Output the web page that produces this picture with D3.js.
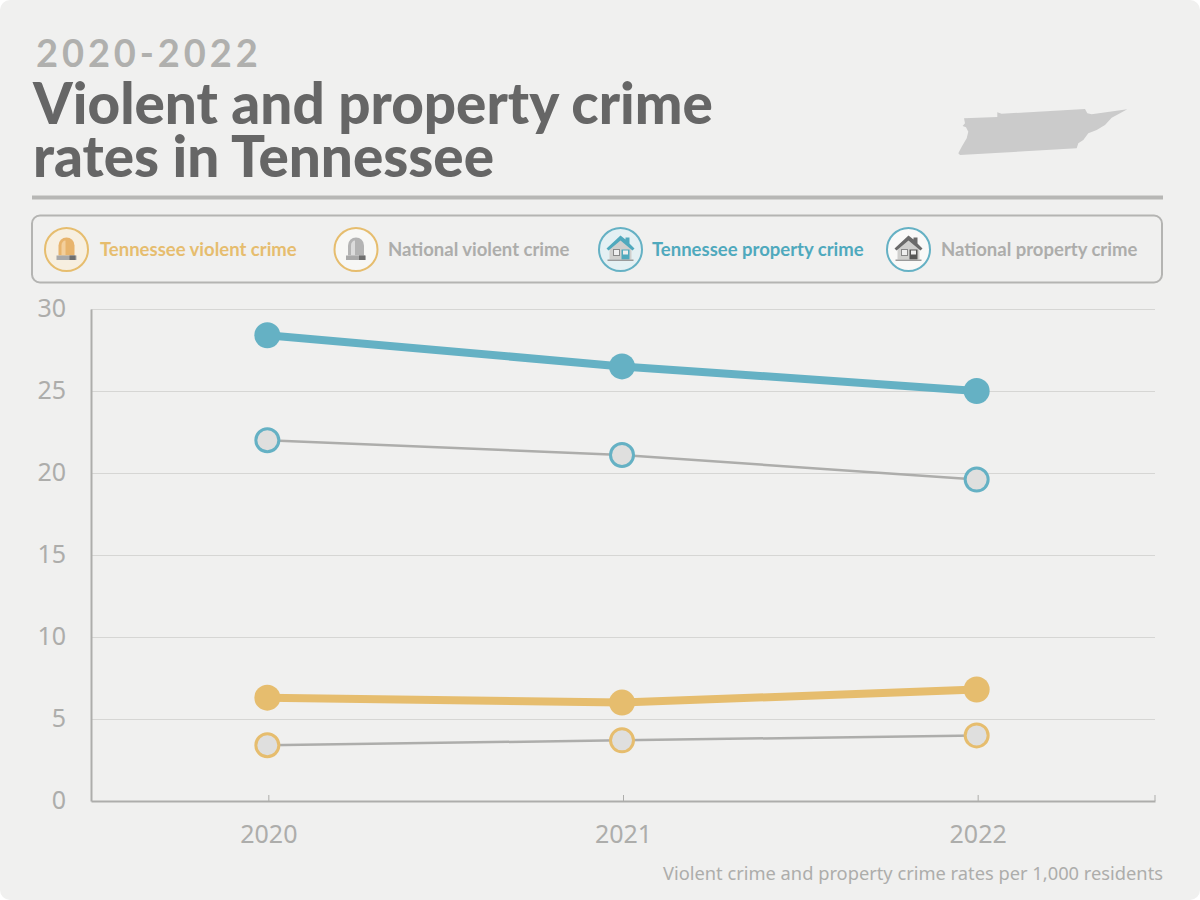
<!DOCTYPE html>
<html>
<head>
<meta charset="utf-8">
<script src="https://cdn.jsdelivr.net/npm/d3@7"></script>
<style>
  html, body { margin: 0; padding: 0; background: #fff; }
  text { font-family: "Noto Sans", sans-serif; }
  .head { font-family: Lato, sans-serif; }
</style>
</head>
<body>
<svg id="chart" width="1200" height="900"></svg>
<script>
const years = [2020, 2021, 2022]
const yTicks = [0, 5, 10, 15, 20, 25, 30]
const tnProperty = [28.4, 26.5, 25.0]
const usProperty = [22.0, 21.1, 19.6]
const tnViolent = [6.3, 6.0, 6.8]
const usViolent = [3.4, 3.7, 4.0]
const titleLines = ['Violent and property crime', 'rates in Tennessee']
const legendLabels = ['Tennessee violent crime', 'National violent crime', 'Tennessee property crime', 'National property crime']

const gold = '#e6bd6e'
const teal = '#65b1c4'
const grey = '#adadab'

const svg = d3.select('#chart')
svg.append('rect').attr('width', 1200).attr('height', 900).attr('rx', 10).attr('fill', '#f0f0ef')

// header
svg.append('text').attr('class', 'head').attr('x', 36).attr('y', 67).text('2020-2022')
  .attr('font-size', 38).attr('font-weight', 700).attr('letter-spacing', 3.9).attr('fill', '#b0b0ae')
titleLines.forEach((t, i) => {
  svg.append('text').attr('class', 'head').attr('x', 33).attr('y', 124 + i * 53).text(t)
    .attr('font-size', 56.6).attr('font-weight', 900).attr('fill', '#666')
})
svg.append('line').attr('x1', 32).attr('x2', 1163).attr('y1', 197.5).attr('y2', 197.5)
  .attr('stroke', '#b7b7b5').attr('stroke-width', 4)

// state outline
const tnOutline = [[958.3, 153.3], [961.7, 146.7], [966.7, 138.3], [968.3, 131.7], [966, 127.3], [962.7, 126], [965, 123.3], [964, 118.3], [997.3, 117], [997.3, 112.3], [1001.7, 113.7], [1085, 109], [1087.3, 113.3], [1091.7, 114.3], [1127.3, 109.3], [1120, 113.3], [1111.7, 117.7], [1105, 125], [1096.7, 130], [1088.3, 133.3], [1083.3, 140], [1078.3, 143.3], [1076.7, 148.3], [960, 155]]
svg.append('path').attr('d', d3.line().curve(d3.curveLinearClosed)(tnOutline)).attr('fill', '#cbcbcb')

// legend box
svg.append('rect').attr('x', 32).attr('y', 215.5).attr('width', 1130).attr('height', 67).attr('rx', 8)
  .attr('fill', 'none').attr('stroke', '#b4b4b2').attr('stroke-width', 2)

const legendX = [66.5, 356, 620.5, 908.5]
const legendTextX = [100, 388, 652, 941]
const legendFill = ['#f7efe0', '#f7f7f5', '#e4f0f3', '#f9f9f8']
const legendStroke = [gold, gold, teal, teal]
const legendText = [gold, grey, '#4fa9bd', grey]

function siren(g, tone) {
  const body = tone ? '#e8b46c' : '#b4b4b4'
  const hi = tone ? '#f3cf9c' : '#dcdcdc'
  g.append('path').attr('d', 'M-8,6 V-4 a8,8 0 0 1 16,0 V6 Z').attr('fill', body)
  g.append('path').attr('d', 'M-5,6 V-4 a4,5 0 0 1 4,-5 V6 Z').attr('fill', hi)
  g.append('rect').attr('x', -10).attr('y', 6).attr('width', 20).attr('height', 4.5).attr('fill', '#a9a9a9')
  g.append('rect').attr('x', 3).attr('y', 6).attr('width', 6).attr('height', 4.5).attr('fill', '#6e6e6e')
}

function house(g, tone) {
  const roof = tone ? '#4fa9bd' : '#6a6a6a'
  const door = tone ? '#4fa9bd' : '#555'
  g.append('path').attr('d', 'M-11,10 V-3 L0,-12 L11,-3 V10 Z').attr('fill', '#cfcfcd')
  g.append('path').attr('d', 'M-14,-1 L0,-14 L5,-10 V-12 H9 V-6 L14,-1 L12,1 L0,-9 L-12,1 Z').attr('fill', roof)
  g.append('rect').attr('x', -7).attr('y', 0).attr('width', 6).attr('height', 6).attr('fill', '#eee').attr('stroke', '#888')
  g.append('rect').attr('x', 1).attr('y', 0).attr('width', 8).attr('height', 10).attr('fill', door)
  g.append('rect').attr('x', 2.5).attr('y', 1).attr('width', 5).attr('height', 4).attr('fill', '#eee')
  g.append('rect').attr('x', -13).attr('y', 10).attr('width', 26).attr('height', 1.5).attr('fill', '#9a9a9a')
}

legendLabels.forEach((label, i) => {
  const g = svg.append('g').attr('transform', `translate(${legendX[i]},249.5)`)
  g.append('circle').attr('r', 21.5).attr('fill', legendFill[i]).attr('stroke', legendStroke[i]).attr('stroke-width', 2)
  if (i < 2) siren(g, i === 0)
  else house(g, i === 2)
  svg.append('text').attr('class', 'head').attr('x', legendTextX[i]).attr('y', 256).text(label)
    .attr('font-size', 18.5).attr('font-weight', 700).attr('fill', legendText[i])
})

// chart
const x = d3.scaleLinear().domain([2019.5, 2022.5]).range([91, 1155])
const y = d3.scaleLinear().domain([0, 30]).range([801, 309])

svg.append('g').selectAll('line').data(yTicks.slice(1)).join('line')
  .attr('x1', 91).attr('x2', 1155).attr('y1', d => y(d)).attr('y2', d => y(d))
  .attr('stroke', '#d6d6d4').attr('stroke-width', 1).attr('shape-rendering', 'crispEdges')

const yAxis = svg.append('g').attr('transform', 'translate(91,0)')
  .call(d3.axisLeft(y).tickValues(yTicks).tickSize(0).tickFormat(d3.format('d')))
yAxis.select('.domain').attr('stroke', grey).attr('stroke-width', 2)
yAxis.selectAll('text').attr('font-size', 25).attr('fill', grey).attr('x', -25).attr('dy', '0.3em')
  .style('font-family', '"Noto Sans", sans-serif')

const xAxis = svg.append('g').attr('transform', 'translate(0,801)')
  .call(d3.axisBottom(x).tickValues(years).tickSize(-6).tickSizeOuter(0).tickFormat(d3.format('d')))
xAxis.select('.domain').attr('stroke', grey).attr('stroke-width', 2)
xAxis.selectAll('.tick line').attr('stroke', grey)
xAxis.selectAll('text').attr('font-size', 25).attr('fill', grey).attr('y', 24).attr('dy', '0.71em')
  .style('font-family', '"Noto Sans", sans-serif')
svg.append('line').attr('x1', 1155).attr('x2', 1155).attr('y1', 795).attr('y2', 801).attr('stroke', grey)

function drawSeries(values, lineColor, lineWidth, dotFill, dotStroke) {
  const line = d3.line().x((d, i) => x(years[i]) - 1).y(d => y(d))
  svg.append('path').attr('d', line(values)).attr('fill', 'none').attr('stroke', lineColor).attr('stroke-width', lineWidth)
  svg.append('g').selectAll('circle').data(values).join('circle')
    .attr('cx', (d, i) => x(years[i]) - 1).attr('cy', d => y(d)).attr('r', dotFill === dotStroke ? 13 : 11.5)
    .attr('fill', dotFill).attr('stroke', dotStroke).attr('stroke-width', dotFill === dotStroke ? 0 : 3)
}

drawSeries(usProperty, grey, 2.5, '#dfdfde', teal)
drawSeries(usViolent, grey, 2.5, '#dfdfde', gold)
drawSeries(tnProperty, teal, 8, teal, teal)
drawSeries(tnViolent, gold, 8, gold, gold)

svg.append('text').attr('x', 1163).attr('y', 880).attr('text-anchor', 'end')
  .text('Violent crime and property crime rates per 1,000 residents')
  .attr('font-size', 18.3).attr('fill', grey)
</script>
</body>
</html>
